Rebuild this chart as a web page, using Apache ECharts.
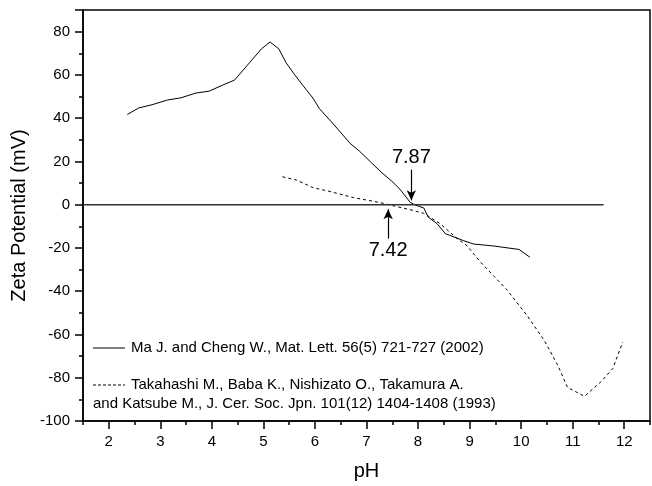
<!DOCTYPE html>
<html>
<head>
<meta charset="utf-8">
<script src="https://cdn.jsdelivr.net/npm/echarts@6/dist/echarts.min.js"></script>
<style>html,body{margin:0;padding:0;background:#fff}#c{width:652px;height:486px}</style>
</head>
<body>
<div id="c"></div>
<script>
const maPH   = [2.36,2.58,2.84,3.14,3.40,3.69,3.95,4.21,4.44,4.73,4.96,5.13,5.30,5.44,5.60,5.77,5.96,6.09,6.35,6.68,6.87,7.10,7.30,7.49,7.65,7.85,7.95,8.11,8.20,8.37,8.53,8.89,9.08,9.47,9.96,10.17];
const maZeta = [41.7,44.7,46.2,48.4,49.4,51.6,52.5,55.3,57.6,65.6,72.0,75.2,72.0,65.6,60.3,55.0,49.3,44.3,37.5,28.4,24.6,19.3,14.7,10.9,7.1,1.0,-0.2,-1.5,-5.8,-8.8,-13.4,-16.7,-18.2,-19.1,-20.7,-24.3];
const taPH   = [5.37,5.64,5.96,6.29,6.74,7.26,7.52,7.91,8.11,8.43,8.76,8.95,9.21,9.73,10.12,10.45,10.71,10.90,11.23,11.55,11.78,11.97];
const taZeta = [12.9,11.4,7.9,6.1,3.3,1.0,-0.5,-2.7,-4.0,-8.8,-15.7,-19.0,-26.5,-39.5,-51.4,-62.8,-74.2,-84.5,-88.6,-81.8,-75.7,-63.5];
const zeroPH = [1.5, 11.6];
const zeroY  = [0, 0];
const xMajorTicks = [2, 3, 4, 5, 6, 7, 8, 9, 10, 11, 12];
const xMinorTicks = [1.5, 2.5, 3.5, 4.5, 5.5, 6.5, 7.5, 8.5, 9.5, 10.5, 11.5, 12.5];
const iepLabels = ['7.87', '7.42'];
const iepPH     = [7.87, 7.42];
const iepFrom   = [16.2, -15.7];
const iepTo     = [2.0, -2.1];
const legendTexts = ['Ma J. and Cheng W., Mat. Lett. 56(5) 721-727 (2002)',
  'Takahashi M., Baba K., Nishizato O., Takamura A.',
  'and Katsube M., J. Cer. Soc. Jpn. 101(12) 1404-1408 (1993)'];

const pair = (xs, ys) => xs.map((x, i) => [x, ys[i]]);
const FONT = 'Liberation Sans';
const chart = echarts.init(document.getElementById('c'));
chart.setOption({
  animation: false,
  backgroundColor: '#fff',
  textStyle: { fontFamily: FONT, color: '#000' },
  grid: { left: 83, right: 2, top: 10, bottom: 59, show: true, borderColor: '#000', borderWidth: 1.5, containLabel: false },
  xAxis: [{
    type: 'value', min: 1.5, max: 12.5,
    name: 'pH', nameLocation: 'middle', nameGap: 40,
    nameTextStyle: { fontSize: 20, fontFamily: FONT, color: '#000' },
    axisLine: { show: true, onZero: false, lineStyle: { color: '#000', width: 1.5 } },
    axisTick: { show: true, inside: false, length: 8, customValues: xMajorTicks, lineStyle: { color: '#000', width: 1.5 } },
    axisLabel: { fontSize: 15, color: '#000', margin: 13, customValues: xMajorTicks, fontFamily: FONT },
    splitLine: { show: false }
  }, {
    type: 'value', min: 1.5, max: 12.5, position: 'bottom',
    axisLine: { show: false, onZero: false },
    axisTick: { show: true, inside: false, length: 4, customValues: xMinorTicks, lineStyle: { color: '#000', width: 1.5 } },
    axisLabel: { show: false },
    splitLine: { show: false }
  }],
  yAxis: {
    type: 'value', min: -100, max: 90, interval: 20,
    name: 'Zeta Potential (mV)', nameLocation: 'middle', nameGap: 51,
    nameTextStyle: { fontSize: 20, fontFamily: FONT, color: '#000' },
    axisLine: { show: true, onZero: false, lineStyle: { color: '#000', width: 1.5 } },
    axisTick: { show: true, inside: false, length: 8, lineStyle: { color: '#000', width: 1.5 } },
    minorTick: { show: true, splitNumber: 2, length: 4, lineStyle: { color: '#000', width: 1.5 } },
    axisLabel: { fontSize: 15, color: '#000', margin: 13, showMaxLabel: false, fontFamily: FONT },
    splitLine: { show: false }
  },
  series: [
    { type: 'line', data: pair(maPH, maZeta), showSymbol: false, symbol: 'none',
      lineStyle: { color: '#000', width: 1 } },
    { type: 'line', data: pair(taPH, taZeta), showSymbol: false, symbol: 'none',
      lineStyle: { color: '#000', width: 1, type: [3, 3] } },
    { type: 'line', data: pair(zeroPH, zeroY), showSymbol: false, symbol: 'none',
      lineStyle: { color: '#333', width: 1.5 },
      markLine: {
        silent: true, symbol: ['none', 'arrow'], symbolSize: [7, 10],
        lineStyle: { color: '#000', width: 1.2, type: 'solid' },
        label: { show: true, position: 'start', fontSize: 20, color: '#000', fontFamily: FONT, distance: 2 },
        data: iepPH.map((p, i) => [
          { coord: [p, iepFrom[i]], name: iepLabels[i], label: { formatter: iepLabels[i] } },
          { coord: [p, iepTo[i]] }
        ])
      } }
  ],
  graphic: [
    { type: 'line', shape: { x1: 93, y1: 348, x2: 125, y2: 348 }, style: { stroke: '#000', lineWidth: 1 } },
    { type: 'text', x: 131, y: 348, style: { text: legendTexts[0], fontSize: 15, fontFamily: FONT, fill: '#000', verticalAlign: 'middle' } },
    { type: 'line', shape: { x1: 93, y1: 385, x2: 125, y2: 385 }, style: { stroke: '#000', lineWidth: 1, lineDash: [3, 2] } },
    { type: 'text', x: 131, y: 385, style: { text: legendTexts[1], fontSize: 15, fontFamily: FONT, fill: '#000', verticalAlign: 'middle' } },
    { type: 'text', x: 93, y: 404, style: { text: legendTexts[2], fontSize: 15, fontFamily: FONT, fill: '#000', verticalAlign: 'middle' } }
  ]
});
</script>
</body>
</html>
